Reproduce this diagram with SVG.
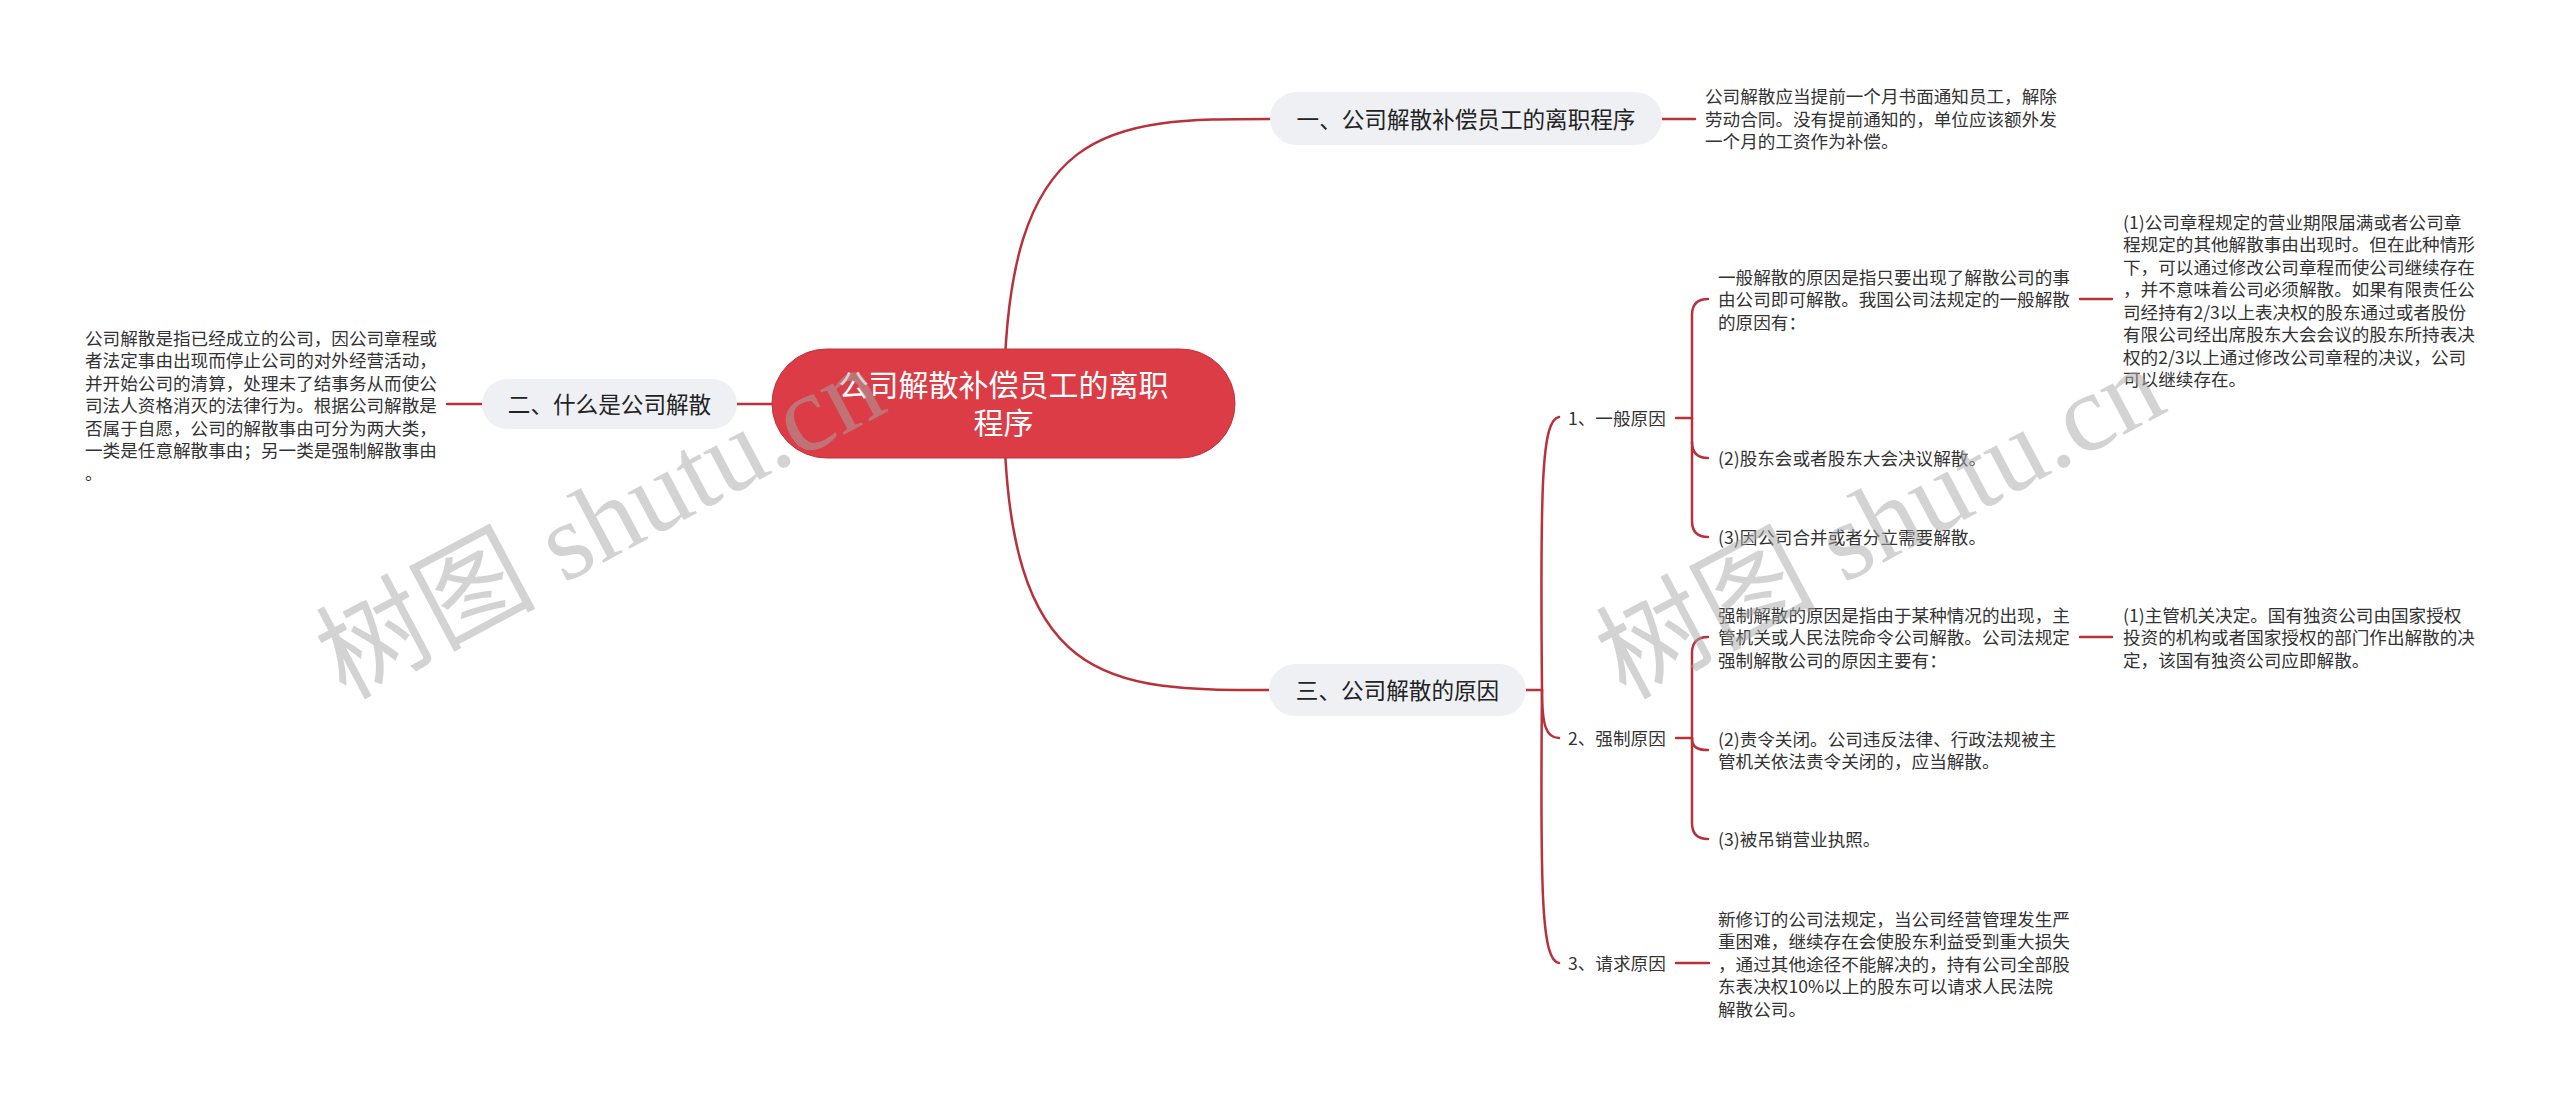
<svg xmlns="http://www.w3.org/2000/svg" width="2560" height="1104" viewBox="0 0 2560 1104">
<style>
.bg{fill:#ffffff}
.link{fill:none;stroke:#b8323b;stroke-width:2.5;stroke-linecap:round}
.sub{fill:#eef0f4}
.root{fill:#dc3c45;stroke:#c3313a;stroke-width:1}
.rt{font-family:"Noto Sans CJK SC","Noto Sans",sans-serif;font-size:30px;fill:#ffffff;text-anchor:middle}
.st{font-family:"Noto Sans CJK SC","Noto Sans",sans-serif;font-size:22.6px;fill:#222222;text-anchor:middle}
.lt{font-family:"Noto Sans CJK SC","Noto Sans",sans-serif;font-size:17.6px;fill:#333333}
.wm{font-family:"Liberation Serif","Noto Sans CJK SC",serif;font-size:110px;fill:#a8a8a8;opacity:0.5}
</style>
<rect class="bg" x="0" y="0" width="2560" height="1104"/>

<g id="connectors">
  <path class="link" d="M1004 404 C1004 119 1110 119 1270 119"/>
  <path class="link" d="M1004 404 C1004 690 1110 690 1270 690"/>
  <path class="link" d="M772 404 L737 404"/>
  <path class="link" d="M482 404 L447 404"/>
  <path class="link" d="M1662 119 L1695 119"/>
  <path class="link" d="M1526 690 L1542 690"/>
  <path class="link" d="M1542 690 C1540 480 1542 420 1559 417"/>
  <path class="link" d="M1542 690 C1542 725 1546 738 1559 738"/>
  <path class="link" d="M1542 690 C1540 900 1542 960 1559 963"/>
  <path class="link" d="M1676 418 L1692 418 L1692 315 Q1692 299 1708 299"/>
  <path class="link" d="M1692 418 L1692 442 Q1692 458 1708 458"/>
  <path class="link" d="M1692 442 L1692 521 Q1692 537 1708 537"/>
  <path class="link" d="M2080 299 L2112 299"/>
  <path class="link" d="M1676 738 L1692 738 L1692 653 Q1692 637 1708 637"/>
  <path class="link" d="M1692 738 C1692 747 1697 750 1708 750"/>
  <path class="link" d="M1692 738 L1692 823 Q1692 839 1708 839"/>
  <path class="link" d="M2080 637 L2112 637"/>
  <path class="link" d="M1676 963 L1709 963"/>
</g>

<g id="root">
  <rect class="root" x="772" y="349" width="463" height="109" rx="54.5"/>
  <text class="rt" x="1003.5" y="396.4">公司解散补偿员工的离职<tspan x="1003.5" y="434.4">程序</tspan></text>
</g>

<g id="n1">
  <rect class="sub" x="1270" y="92" width="392" height="53" rx="26.5"/>
  <text class="st" x="1466" y="127.6">一、公司解散补偿员工的离职程序</text>
</g>
<g id="n1-text">
  <text class="lt" x="1705" y="103">公司解散应当提前一个月书面通知员工，解除</text>
  <text class="lt" x="1705" y="125.5">劳动合同。没有提前通知的，单位应该额外发</text>
  <text class="lt" x="1705" y="148">一个月的工资作为补偿。</text>
</g>

<g id="n2">
  <rect class="sub" x="482" y="379" width="255" height="50" rx="25"/>
  <text class="st" x="609.5" y="412.6">二、什么是公司解散</text>
</g>
<g id="n2-text">
  <text class="lt" x="85" y="344.5">公司解散是指已经成立的公司，因公司章程或</text>
  <text class="lt" x="85" y="367">者法定事由出现而停止公司的对外经营活动，</text>
  <text class="lt" x="85" y="389.5">并开始公司的清算，处理未了结事务从而使公</text>
  <text class="lt" x="85" y="412">司法人资格消灭的法律行为。根据公司解散是</text>
  <text class="lt" x="85" y="434.5">否属于自愿，公司的解散事由可分为两大类，</text>
  <text class="lt" x="85" y="457">一类是任意解散事由；另一类是强制解散事由</text>
  <text class="lt" x="85" y="479.5">。</text>
</g>

<g id="n3">
  <rect class="sub" x="1269" y="664" width="257" height="52" rx="26"/>
  <text class="st" x="1397.5" y="698.6">三、公司解散的原因</text>
</g>

<g id="n3-1">
  <text class="lt" x="1568" y="424.5">1、一般原因</text>
</g>
<g id="n3-1-a">
  <text class="lt" x="1718" y="283.5">一般解散的原因是指只要出现了解散公司的事</text>
  <text class="lt" x="1718" y="306">由公司即可解散。我国公司法规定的一般解散</text>
  <text class="lt" x="1718" y="328.5">的原因有：</text>
</g>
<g id="n3-1-a-1">
  <text class="lt" x="2123" y="228.5">(1)公司章程规定的营业期限届满或者公司章</text>
  <text class="lt" x="2123" y="251">程规定的其他解散事由出现时。但在此种情形</text>
  <text class="lt" x="2123" y="273.5">下，可以通过修改公司章程而使公司继续存在</text>
  <text class="lt" x="2123" y="296">，并不意味着公司必须解散。如果有限责任公</text>
  <text class="lt" x="2123" y="318.5">司经持有2/3以上表决权的股东通过或者股份</text>
  <text class="lt" x="2123" y="341">有限公司经出席股东大会会议的股东所持表决</text>
  <text class="lt" x="2123" y="363.5">权的2/3以上通过修改公司章程的决议，公司</text>
  <text class="lt" x="2123" y="386">可以继续存在。</text>
</g>
<g id="n3-1-b">
  <text class="lt" x="1718" y="464.5">(2)股东会或者股东大会决议解散。</text>
</g>
<g id="n3-1-c">
  <text class="lt" x="1718" y="543.5">(3)因公司合并或者分立需要解散。</text>
</g>

<g id="n3-2">
  <text class="lt" x="1568" y="744.5">2、强制原因</text>
</g>
<g id="n3-2-a">
  <text class="lt" x="1718" y="621.5">强制解散的原因是指由于某种情况的出现，主</text>
  <text class="lt" x="1718" y="644">管机关或人民法院命令公司解散。公司法规定</text>
  <text class="lt" x="1718" y="666.5">强制解散公司的原因主要有：</text>
</g>
<g id="n3-2-a-1">
  <text class="lt" x="2123" y="621.5">(1)主管机关决定。国有独资公司由国家授权</text>
  <text class="lt" x="2123" y="644">投资的机构或者国家授权的部门作出解散的决</text>
  <text class="lt" x="2123" y="666.5">定，该国有独资公司应即解散。</text>
</g>
<g id="n3-2-b">
  <text class="lt" x="1718" y="745.5">(2)责令关闭。公司违反法律、行政法规被主</text>
  <text class="lt" x="1718" y="768">管机关依法责令关闭的，应当解散。</text>
</g>
<g id="n3-2-c">
  <text class="lt" x="1718" y="845.5">(3)被吊销营业执照。</text>
</g>

<g id="n3-3">
  <text class="lt" x="1568" y="969.5">3、请求原因</text>
</g>
<g id="n3-3-a">
  <text class="lt" x="1718" y="925.5">新修订的公司法规定，当公司经营管理发生严</text>
  <text class="lt" x="1718" y="948">重困难，继续存在会使股东利益受到重大损失</text>
  <text class="lt" x="1718" y="970.5">，通过其他途径不能解决的，持有公司全部股</text>
  <text class="lt" x="1718" y="993">东表决权10%以上的股东可以请求人民法院</text>
  <text class="lt" x="1718" y="1015.5">解散公司。</text>
</g>

<g id="watermark">
  <text class="wm" transform="translate(345 700) rotate(-28)">树图 shutu.cn</text>
  <text class="wm" transform="translate(1625 700) rotate(-28)">树图 shutu.cn</text>
</g>
</svg>
